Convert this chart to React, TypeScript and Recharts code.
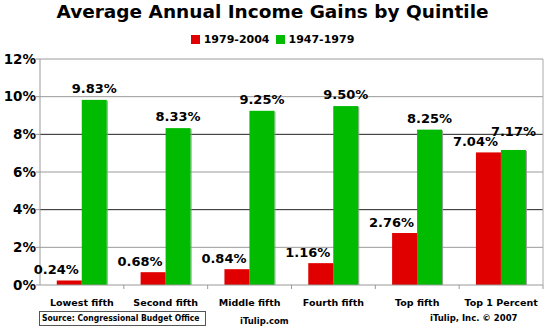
import { BarChart, Bar, XAxis, YAxis, CartesianGrid, LabelList } from "recharts";

const CATEGORIES = ["Lowest fifth", "Second fifth", "Middle fifth", "Fourth fifth", "Top fifth", "Top 1 Percent"];
const GAINS_1979_2004 = [0.24, 0.68, 0.84, 1.16, 2.76, 7.04];
const GAINS_1947_1979 = [9.83, 8.33, 9.25, 9.5, 8.25, 7.17];
const Y_TICKS = [0, 2, 4, 6, 8, 10, 12];
const SERIES = ["1979-2004", "1947-1979"];

const RED = "#e00000";
const GREEN = "#00bb00";
const FONT = "'DejaVu Sans', Verdana, sans-serif";

const W = 545;
const H = 331;
const PLOT_LEFT = 40;
const PLOT_RIGHT = 543;
const BAND = (PLOT_RIGHT - PLOT_LEFT) / CATEGORIES.length;

const data = CATEGORIES.map((name, i) => ({
  name,
  recent: GAINS_1979_2004[i],
  postwar: GAINS_1947_1979[i],
}));

function pct(v: number) {
  return v.toFixed(2) + "%";
}

function RedLabel(props: any) {
  const { x, y, width, value } = props;
  return (
    <text x={x + width / 2 - 13} y={y - 6} textAnchor="middle" fontFamily={FONT} fontWeight="bold" fontSize={13} fill="#000">
      {pct(value)}
    </text>
  );
}

function GreenLabel(props: any) {
  const { x, y, width, value, index } = props;
  // push up when the red label next door would collide
  const close = Math.abs(GAINS_1947_1979[index] - GAINS_1979_2004[index]) < 1;
  return (
    <text x={x + width / 2} y={y - (close ? 14 : 7)} textAnchor="middle" fontFamily={FONT} fontWeight="bold" fontSize={13} fill="#000">
      {pct(value)}
    </text>
  );
}

// bar with the thin grey shadow on its right edge
function ShadowBar(props: any) {
  const { x, y, width, height, fill } = props;
  if (!height || height <= 0) return null;
  return (
    <g>
      <rect x={x + width} y={y + 1} width={1} height={height - 1} fill="#999" />
      <rect x={x} y={y} width={width} height={height} fill={fill} />
    </g>
  );
}

function CatTick(props: any) {
  const { x, y, payload } = props;
  return (
    <g>
      <line x1={x + BAND / 2} x2={x + BAND / 2} y1={285} y2={289} stroke="#999" />
      <text x={x} y={y + 13} textAnchor="middle" fontFamily={FONT} fontWeight="bold" fontSize={9.5} fill="#000">
        {payload.value}
      </text>
    </g>
  );
}

export default function App() {
  return (
    <div style={{ position: "absolute", left: 0, top: 0, width: W, height: H, background: "#fff", fontFamily: FONT }}>
      <div style={{ position: "absolute", top: 1, left: 0, width: W, textAlign: "center", fontSize: 18.5, fontWeight: "bold", color: "#000" }}>
        Average Annual Income Gains by Quintile
      </div>
      <div style={{ position: "absolute", top: 33, left: 0, width: W, display: "flex", justifyContent: "center", gap: 6, fontSize: 11, fontWeight: "bold", color: "#000" }}>
        {SERIES.map((s, i) => (
          <span key={s} style={{ display: "flex", alignItems: "center", gap: 4 }}>
            <span style={{ display: "inline-block", width: 9, height: 9, background: i === 0 ? RED : GREEN }} />
            {s}
          </span>
        ))}
      </div>
      <BarChart
        width={W}
        height={H}
        data={data}
        margin={{ top: 59, right: 0, bottom: 0, left: 0 }}
        barCategoryGap="20%"
        barGap={0}
      >
        <CartesianGrid vertical={false} stroke="#9a9a9a" horizontalValues={[2, 6, 10, 12]} />
        <CartesianGrid vertical={false} stroke="#222" horizontalValues={[4, 8]} />
        <XAxis dataKey="name" height={46} axisLine={{ stroke: "#999" }} tickLine={false} tick={<CatTick />} interval={0} />
        <YAxis
          domain={[0, 12]}
          ticks={Y_TICKS}
          width={40}
          tickSize={4}
          tickMargin={0}
          axisLine={{ stroke: "#999" }}
          tickLine={{ stroke: "#999" }}
          tickFormatter={(v) => v + "%"}
          tick={{ fontFamily: FONT, fontWeight: "bold", fontSize: 13.5, fill: "#000" }}
        />
        <YAxis yAxisId="r" orientation="right" width={2} domain={[0, 12]} tick={false} tickLine={false} axisLine={{ stroke: "#aaa" }} />
        <Bar dataKey="recent" name={SERIES[0]} fill={RED} shape={<ShadowBar />} isAnimationActive={false}>
          <LabelList dataKey="recent" content={<RedLabel />} />
        </Bar>
        <Bar dataKey="postwar" name={SERIES[1]} fill={GREEN} shape={<ShadowBar />} isAnimationActive={false}>
          <LabelList dataKey="postwar" content={<GreenLabel />} />
        </Bar>
      </BarChart>
      <div style={{ position: "absolute", left: 39, top: 311, width: 163, height: 13, border: "1px solid #555", fontFamily: "'DejaVu Sans Condensed', 'DejaVu Sans', sans-serif", fontSize: 8.5, fontWeight: "bold", lineHeight: "13px", paddingLeft: 2, color: "#000", whiteSpace: "nowrap", overflow: "hidden" }}>
        Source: Congressional Budget Office
      </div>
      <div style={{ position: "absolute", left: 240, top: 316, fontSize: 8.5, fontWeight: "bold", color: "#000" }}>iTulip.com</div>
      <div style={{ position: "absolute", left: 430, top: 313, fontSize: 8.5, fontWeight: "bold", color: "#000" }}>iTulip, Inc. © 2007</div>
    </div>
  );
}
